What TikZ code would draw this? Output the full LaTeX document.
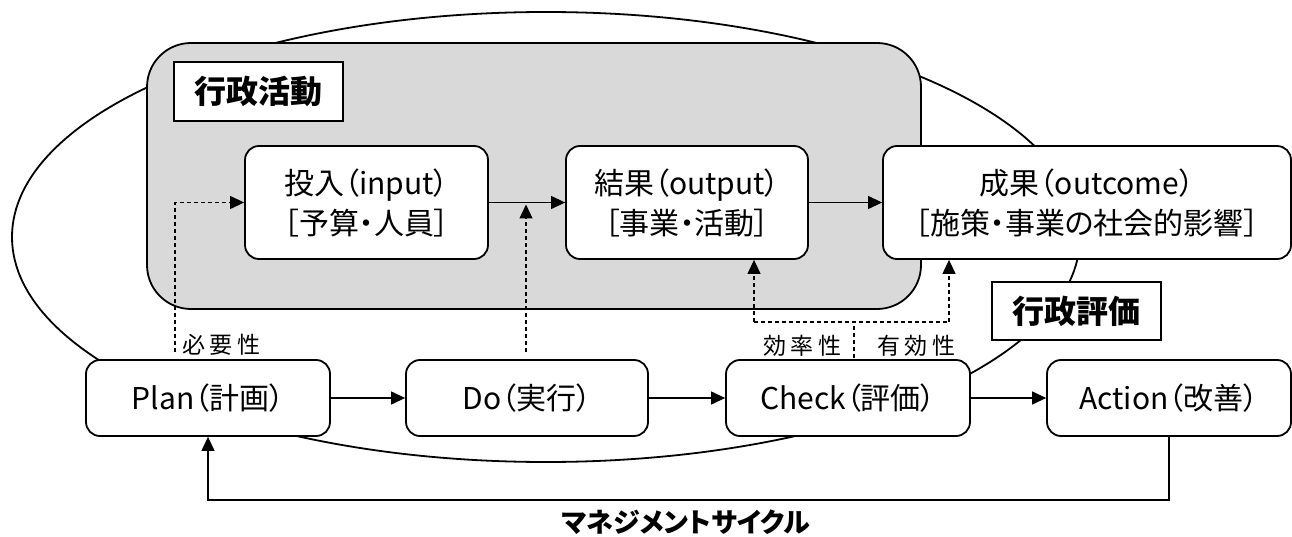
\documentclass[tikz,border=0pt]{standalone}
\usepackage{fontspec}
\setmainfont{Noto Sans CJK JP}[RawFeature=+palt]
\usetikzlibrary{arrows.meta}
\definecolor{grayfill}{HTML}{D9D9D9}
\begin{document}
\begin{tikzpicture}[x=1pt,y=-1pt,
  box/.style={draw, line width=1.8pt, rounded corners=14pt, fill=white, align=center, inner sep=0pt, font=\fontsize{30}{40}\selectfont},
  tag/.style={draw, line width=2pt, fill=white, inner sep=0pt, font=\bfseries\fontsize{32}{36}\selectfont},
  arr/.style={-{Triangle[length=14pt,width=13pt]}, line width=1.2pt},
  dsh/.style={dash pattern=on 4pt off 3pt, line width=1.1pt},
  lbl/.style={font=\fontsize{23}{26}\selectfont\addfontfeature{LetterSpace=20}, inner sep=0pt}
]
\useasboundingbox (0,0) rectangle (1292,537);

% evaluation ellipse
\draw[line width=1.8pt] (546,237) ellipse [x radius=534pt, y radius=225pt];

% administrative activity area
\draw[line width=1.8pt, fill=grayfill, rounded corners=44pt] (147,43) rectangle (921,309);

% dashed connector anchors
\coordinate (pn) at (175,352);
\coordinate (dn) at (526,352);
\coordinate (ca) at (754,322);
\coordinate (cb) at (949,322);
\coordinate (cm) at (854,358);
\coordinate (fb) at (700,500);

% nodes
\node[tag, minimum width=169pt, minimum height=59pt] (gyo) at (258.5,91.5) {行政活動};
\node[tag, minimum width=169pt, minimum height=58pt] (hyo) at (1076.5,311) {行政評価};

\node[box, minimum width=243pt, minimum height=113pt] (inp) at (366.5,202.5) {投入（input）\\［予算・人員］};
\node[box, minimum width=242pt, minimum height=113pt] (res) at (687,202.5) {結果（output）\\［事業・活動］};
\node[box, minimum width=408pt, minimum height=113pt] (out) at (1087,202.5) {成果（outcome）\\［施策・事業の社会的影響］};

\node[box, minimum width=244pt, minimum height=76pt] (plan) at (208,398) {Plan（計画）};
\node[box, minimum width=242pt, minimum height=76pt] (do) at (527,398) {Do（実行）};
\node[box, minimum width=244pt, minimum height=76pt] (chk) at (848,398) {Check（評価）};
\node[box, minimum width=244pt, minimum height=76pt] (act) at (1169,398) {Action（改善）};

% labels
\node[lbl, anchor=west] (l1) at (182,345) {必要性};
\node[lbl] (l2) at (802.5,346) {効率性};
\node[lbl] (l3) at (916.5,346) {有効性};
\node[font=\bfseries\fontsize{27}{30}\selectfont, inner sep=0pt] (mc) at (686,522) {マネジメントサイクル};

% solid arrows
\draw[arr] (inp.east) -- (res.west);
\draw[arr] (res.east) -- (out.west);
\draw[arr] (plan.east) -- (do.west);
\draw[arr] (do.east) -- (chk.west);
\draw[arr] (chk.east) -- (act.west);
\draw[arr] (act.south) |- (fb) -| (plan.south);

% dashed arrows
\draw[dsh, arr] (pn) |- (inp.west);
\draw[dsh, arr, shorten >=2pt] (dn) -- (dn |- inp.east);
\draw[dsh] (ca) -- (cb);
\draw[dsh] (cm) -- (cm |- ca);
\draw[dsh, arr] (ca) -- (ca |- res.south);
\draw[dsh, arr] (cb) -- (cb |- out.south);
\end{tikzpicture}
\end{document}
